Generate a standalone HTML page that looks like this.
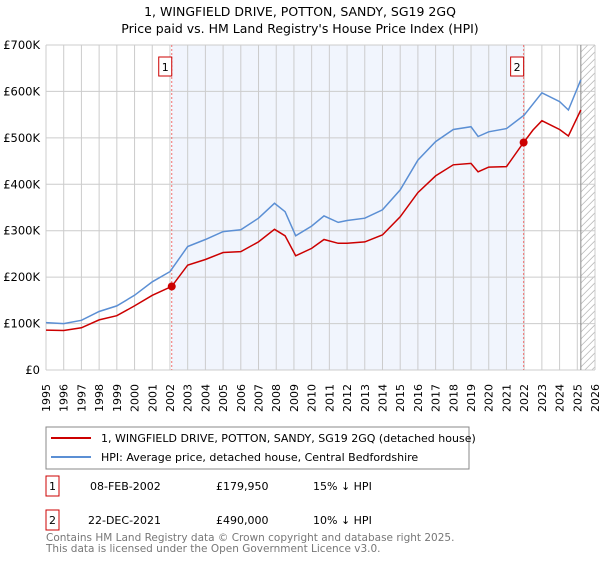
<!DOCTYPE html>
<html><head><meta charset="utf-8"><style>
body{margin:0;background:#fff;font-family:"Liberation Sans","DejaVu Sans",sans-serif;}
svg text{font-family:"DejaVu Sans","Liberation Sans",sans-serif;}
</style></head><body>
<svg id="c" width="600" height="560" xmlns="http://www.w3.org/2000/svg">
<text x="300" y="16" text-anchor="middle" font-size="12.5">1, WINGFIELD DRIVE, POTTON, SANDY, SG19 2GQ</text>
<text x="300" y="33" text-anchor="middle" font-size="12.5">Price paid vs. HM Land Registry's House Price Index (HPI)</text>
<g id="plot"></g>
<g>
<rect x="46" y="427" width="423" height="42" fill="#fff" stroke="#888"/>
<line x1="51" y1="438" x2="91" y2="438" stroke="#cc0000" stroke-width="2"/>
<text x="101" y="442" font-size="11">1, WINGFIELD DRIVE, POTTON, SANDY, SG19 2GQ (detached house)</text>
<line x1="51" y1="457" x2="91" y2="457" stroke="#5b8fd4" stroke-width="2"/>
<text x="101" y="461" font-size="11">HPI: Average price, detached house, Central Bedfordshire</text>
</g>
<g font-size="11">
<rect x="46" y="476" width="13" height="20" fill="none" stroke="#cc0000"/>
<text x="52.5" y="490" text-anchor="middle">1</text>
<text x="90" y="490">08-FEB-2002</text><text x="216" y="490">£179,950</text><text x="313" y="490">15% ↓ HPI</text>
<rect x="46" y="510" width="13" height="20" fill="none" stroke="#cc0000"/>
<text x="52.5" y="524" text-anchor="middle">2</text>
<text x="88" y="524">22-DEC-2021</text><text x="216" y="524">£490,000</text><text x="313" y="524">10% ↓ HPI</text>
</g>
<text x="46" y="541" font-size="10.5" fill="#777">Contains HM Land Registry data © Crown copyright and database right 2025.</text>
<text x="46" y="552" font-size="10.5" fill="#777">This data is licensed under the Open Government Licence v3.0.</text>
</svg>
<script>
const hpiYears=[1995,1996,1997,1998,1999,2000,2001,2002,2003,2004,2005,2006,2007,2007.9,2008.5,2009.1,2010,2010.7,2011.5,2012,2013,2014,2015,2016,2017,2018,2019,2019.4,2020,2021,2022,2023,2024,2024.5,2025.2];
const hpiValues=[102,100,107,126,138,161,190,212,266,281,298,302,327,359,341,289,310,332,318,322,327,345,388,452,492,518,524,503,513,520,549,597,578,560,625];
const redYears=[1995,1996,1997,1998,1999,2000,2001,2002.1,2003,2004,2005,2006,2007,2007.9,2008.5,2009.1,2010,2010.7,2011.5,2012,2013,2014,2015,2016,2017,2018,2019,2019.4,2020,2021,2021.97,2022.5,2023,2024,2024.5,2025.2];
const redValues=[86,85,91,108,117,138,161,180,226,238,253,255,276,303,289,246,262,281,273,273,276,291,330,382,418,442,445,427,437,438,490,517,537,518,504,560];
const saleYears=[2002.1,2021.97];
const saleValues=[179.95,490];
const saleLabels=["1","2"];
const yTicks=[0,100,200,300,400,500,600,700];
const yTickLabels=["£0","£100K","£200K","£300K","£400K","£500K","£600K","£700K"];
const xStart=1995,xEnd=2026;
const L=46,R=595,T=45,B=370;
const sx=y=>L+(y-xStart)/(xEnd-xStart)*(R-L);
const sy=v=>B-v/700*(B-T);
const NS="http://www.w3.org/2000/svg";
const g=document.getElementById('plot');
function mk(t,a){const e=document.createElementNS(NS,t);for(const k in a)e.setAttribute(k,a[k]);g.appendChild(e);return e;}
let e=mk('rect',{x:sx(saleYears[0]),y:T,width:sx(saleYears[1])-sx(saleYears[0]),height:B-T,fill:'#eef3fc',opacity:0.8});


const hs=sx(2025.2);
for(let x=hs-(B-T);x<R;x+=7){const x1=Math.max(x,hs),y1=B-(x1-x);const x2=Math.min(x+(B-T),R),y2=B-(x2-x);if(x2>x1){e=mk('line',{x1:x1,y1:y1,x2:x2,y2:y2,stroke:'#bbb','stroke-width':0.8});

}}
for(let y=xStart;y<=xEnd;y++){e=mk('line',{x1:sx(y),x2:sx(y),y1:T,y2:B,stroke:'#ccc','stroke-width':1});


const t=mk('text',{x:0,y:0,transform:`translate(${sx(y)+4},${B+42}) rotate(-90)`,'font-size':11});t.textContent=y;

}
yTicks.forEach((v,i)=>{e=mk('line',{x1:L,x2:R,y1:sy(v),y2:sy(v),stroke:'#ccc','stroke-width':1});


const t=mk('text',{x:L-6,y:sy(v)+4,'text-anchor':'end','font-size':11.5});t.textContent=yTickLabels[i];

});
e=mk('line',{x1:hs,x2:hs,y1:T,y2:B,stroke:'#888','stroke-width':1});


saleYears.forEach((y,i)=>{e=mk('line',{x1:sx(y),x2:sx(y),y1:T,y2:B,stroke:'#f07070','stroke-dasharray':'2,2','stroke-width':1});


const r=mk('rect',{x:sx(y)-13,y:57,width:13,height:19,fill:'#fff',stroke:'#cc0000'});


const t=mk('text',{x:sx(y)-6.5,y:71,'text-anchor':'middle','font-size':11});t.textContent=saleLabels[i];

});
function pts(xs,vs){return xs.map((y,i)=>sx(y).toFixed(1)+','+sy(vs[i]).toFixed(1)).join(' ');}
e=mk('polyline',{points:pts(hpiYears,hpiValues),fill:'none',stroke:'#5b8fd4','stroke-width':1.5});


e=mk('polyline',{points:pts(redYears,redValues),fill:'none',stroke:'#cc0000','stroke-width':1.5});


saleYears.forEach((y,i)=>{const c=mk('circle',{cx:sx(y),cy:sy(saleValues[i]),r:4,fill:'#cc0000'});

});
</script>
</body></html>
